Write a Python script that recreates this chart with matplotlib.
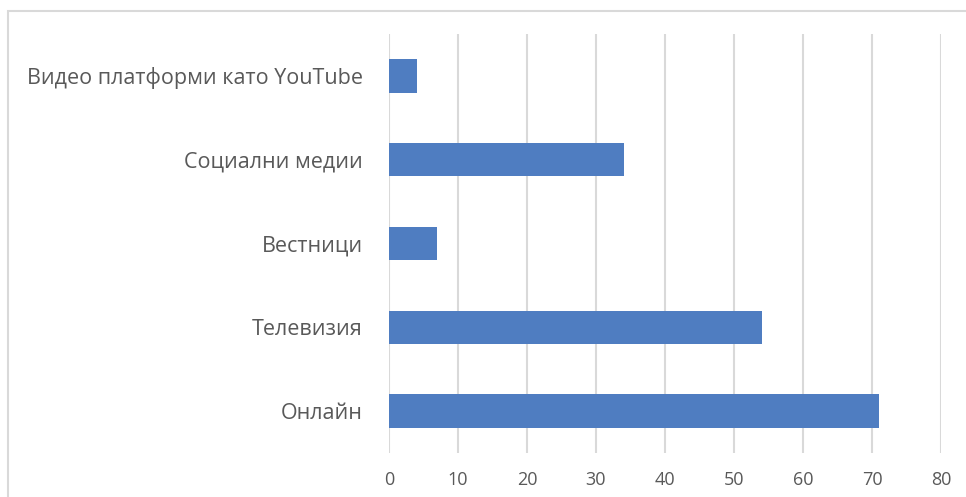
import matplotlib.pyplot as plt
from matplotlib.patches import Rectangle

categories = ["Онлайн", "Телевизия", "Вестници", "Социални медии", "Видео платформи като YouTube"]
values = [71, 54, 7, 34, 4]
xticks = [0, 10, 20, 30, 40, 50, 60, 70, 80]

plt.rcParams['font.family'] = ['Open Sans', 'DejaVu Sans']

fig = plt.figure(figsize=(9.66, 4.97), dpi=100)
W, H = 966, 497
ax = fig.add_axes([389 / W, (H - 453) / H, (941 - 389) / W, (453 - 34) / H])

# chart border (only left/top visible in the crop)
fig.patches.append(Rectangle((8 / W, -0.1), 1.2, (H - 11) / H + 0.1, transform=fig.transFigure,
                             fill=False, edgecolor='#D9D9D9', linewidth=1.5))

ax.barh(range(len(categories)), values, height=0.4, color='#4F7DC1', zorder=3)
ax.set_yticks(range(len(categories)))
ax.set_yticklabels(categories)
ax.set_ylim(-0.5, len(categories) - 0.5)
ax.set_xlim(0, 80)
ax.set_xticks(xticks)
ax.grid(axis='x', color='#D9D9D9', linewidth=1.5, zorder=0)
for s in ax.spines.values():
    s.set_visible(False)
ax.tick_params(axis='y', length=0, pad=19, labelsize=15.5, labelcolor='#595959')
ax.tick_params(axis='x', length=0, pad=13, labelsize=13, labelcolor='#595959')

fig.savefig('out.png', dpi=100)
